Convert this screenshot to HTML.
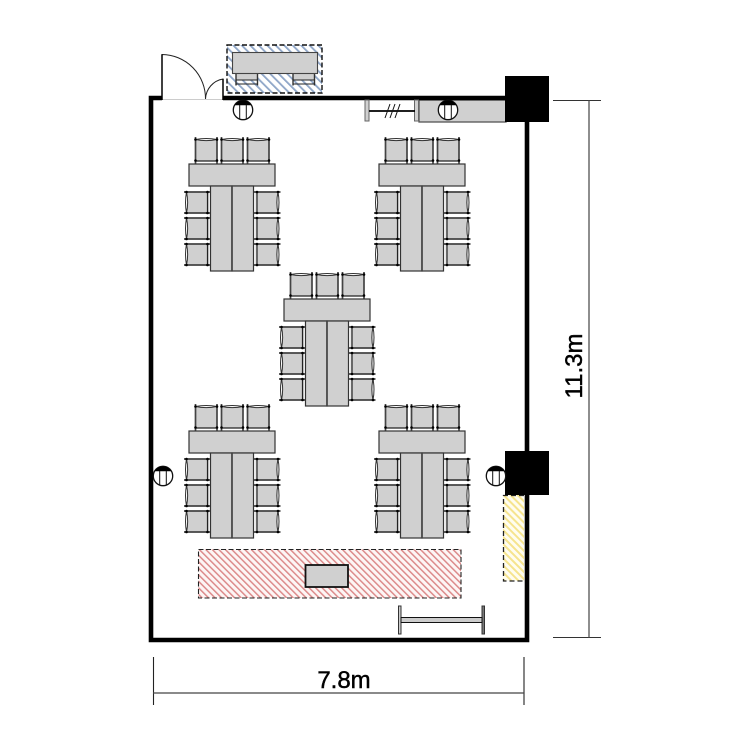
<!DOCTYPE html>
<html><head><meta charset="utf-8">
<style>html,body{margin:0;padding:0;background:#fff}svg{display:block}text{font-family:"Liberation Sans",sans-serif;fill:#000;stroke:#000;stroke-width:.45px}</style>
</head><body>
<svg width="750" height="750" viewBox="0 0 750 750" xmlns="http://www.w3.org/2000/svg">
<defs>
<pattern id="hb" width="6" height="6" patternUnits="userSpaceOnUse" patternTransform="rotate(-45)"><rect width="6" height="6" fill="#fff"/><rect x="0" width="1.800" height="6" fill="#8fa6c8"/></pattern>
<pattern id="hr" width="4.600" height="4.600" patternUnits="userSpaceOnUse" patternTransform="rotate(-45)"><rect width="4.600" height="4.600" fill="#fdf6f5"/><rect x="0" width="1.500" height="4.600" fill="#dc8a8a"/></pattern>
<pattern id="hy" width="5" height="5" patternUnits="userSpaceOnUse" patternTransform="rotate(-45)"><rect width="5" height="5" fill="#fffdf0"/><rect x="0" width="2" height="5" fill="#f6e48e"/></pattern>
<g id="ct">
<rect x="0" y="3" width="21.500" height="21" fill="#d0d0d0"/>
<path d="M0 2.500Q10.750 0.500 21.500 2.500M0 2.500Q10.750 4.800 21.500 2.500" fill="none" stroke="#333" stroke-width="1"/>
<path d="M0 0V26.500M21.500 0V26.500" stroke="#444" stroke-width="1.700" fill="none"/>
<path d="M0 24H21.500" stroke="#222" stroke-width="1.200"/>
<circle cx="0" cy="2.500" r="1.300" fill="#000"/><circle cx="21.500" cy="2.500" r="1.300" fill="#000"/>
<circle cx="0" cy="23.500" r="1.300" fill="#000"/><circle cx="21.500" cy="23.500" r="1.300" fill="#000"/>
</g>
<g id="cl">
<rect x="3" y="0" width="22" height="21" fill="#d0d0d0"/>
<path d="M2.500 0Q0.500 10.500 2.500 21M2.500 0Q4.800 10.500 2.500 21" fill="none" stroke="#333" stroke-width="1"/>
<path d="M0 0H26.500M0 21H26.500" stroke="#444" stroke-width="1.700" fill="none"/>
<path d="M23.500 0V21" stroke="#222" stroke-width="1.200"/>
<circle cx="2.500" cy="0" r="1.300" fill="#000"/><circle cx="2.500" cy="21" r="1.300" fill="#000"/>
<circle cx="23.500" cy="0" r="1.300" fill="#000"/><circle cx="23.500" cy="21" r="1.300" fill="#000"/>
</g>
<g id="cr">
<rect x="1.500" y="0" width="22" height="21" fill="#d0d0d0"/>
<path d="M24 0Q26 10.500 24 21M24 0Q21.700 10.500 24 21" fill="none" stroke="#333" stroke-width="1"/>
<path d="M0 0H26.500M0 21H26.500" stroke="#444" stroke-width="1.700" fill="none"/>
<path d="M3 0V21" stroke="#222" stroke-width="1.200"/>
<circle cx="3" cy="0" r="1.300" fill="#000"/><circle cx="3" cy="21" r="1.300" fill="#000"/>
<circle cx="24" cy="0" r="1.300" fill="#000"/><circle cx="24" cy="21" r="1.300" fill="#000"/>
</g>
<g id="grp">
<use href="#ct" x="195.500" y="137"/><use href="#ct" x="221.500" y="137"/><use href="#ct" x="247.500" y="137"/>
<use href="#cl" x="184" y="192"/><use href="#cl" x="184" y="218"/><use href="#cl" x="184" y="244"/>
<use href="#cr" x="254" y="192"/><use href="#cr" x="254" y="218"/><use href="#cr" x="254" y="244"/>
<rect x="189" y="164" width="86" height="22" fill="#d0d0d0" stroke="#333" stroke-width="1.200"/>
<rect x="210.500" y="186" width="21.500" height="85" fill="#d0d0d0" stroke="#333" stroke-width="1.200"/>
<rect x="232" y="186" width="21.500" height="85" fill="#d0d0d0" stroke="#333" stroke-width="1.200"/>
<path d="M232 186V271" stroke="#444" stroke-width="1.600"/>
</g>
<g id="out">
<circle r="9.700" fill="#fff" stroke="#111" stroke-width="1.300"/>
<path d="M-8.400 -4.800A9.700 9.700 0 0 1 8.400 -4.800Z" fill="#000"/>
<path d="M-3.300 -5V9M3.300 -5V9" stroke="#111" stroke-width="1" fill="none"/>
</g>
</defs>

<!-- hatched zones -->
<rect x="227" y="45" width="95" height="48" fill="url(#hb)" stroke="#111" stroke-width="1.400" stroke-dasharray="5 2.500"/>
<rect x="198.500" y="549.500" width="262.500" height="48.500" fill="url(#hr)" stroke="#222" stroke-width="1.100" stroke-dasharray="5 2.500"/>
<path d="M524 495H503V581H524" fill="url(#hy)" stroke="none"/>
<path d="M524 495.500H503.500V581H524" fill="none" stroke="#222" stroke-width="1.300" stroke-dasharray="5 3"/>

<!-- reception table -->
<rect x="236" y="73" width="21.500" height="7" fill="#d0d0d0"/>
<rect x="293" y="73" width="21.500" height="7" fill="#d0d0d0"/>
<path d="M236 73V85.500M257.500 73V85.500M293 73V85.500M314.500 73V85.500" stroke="#333" stroke-width="1.400"/>
<path d="M236 80H257.500M293 80H314.500M236 84H257.500M293 84H314.500" stroke="#222" stroke-width="1"/>
<rect x="232.500" y="52.500" width="85" height="21" fill="#d0d0d0" stroke="#444" stroke-width="1.100"/>

<!-- counter -->
<rect x="419" y="100" width="87" height="22" fill="#d0d0d0" stroke="#555" stroke-width="1.300"/>

<!-- walls -->
<path d="M162 98H151V640H527V100M223 98H506" fill="none" stroke="#000" stroke-width="4.600"/>
<path d="M162 99.500H223" stroke="#ccc" stroke-width="1"/>
<rect x="505" y="76" width="44" height="46" fill="#000"/>
<rect x="505" y="451" width="44" height="44" fill="#000"/>

<!-- door -->
<path d="M162 100V54.500A44 44 0 0 1 205.500 99" fill="none" stroke="#222" stroke-width="1"/>
<path d="M162 100V54.500" stroke="#000" stroke-width="1.500"/>
<path d="M223 100V79A21 21 0 0 0 205.500 99" fill="none" stroke="#222" stroke-width="1"/>
<path d="M223 100V79" stroke="#000" stroke-width="1.500"/>

<!-- shutter -->
<rect x="365" y="100" width="4" height="21" fill="#d0d0d0" stroke="#666" stroke-width="1"/>
<rect x="414.500" y="100" width="4" height="21" fill="#d0d0d0" stroke="#666" stroke-width="1"/>
<path d="M369 111H415" stroke="#000" stroke-width="1.800"/>
<path d="M385 118L390 104M390 118L395 104M395 118L400 104" stroke="#111" stroke-width="1"/>

<!-- outlets -->
<use href="#out" x="243" y="110"/>
<use href="#out" x="448" y="110"/>
<use href="#out" x="163" y="476"/>
<use href="#out" x="496" y="476"/>

<!-- table groups -->
<use href="#grp"/>
<use href="#grp" x="190"/>
<use href="#grp" x="95" y="135"/>
<use href="#grp" y="267"/>
<use href="#grp" x="190" y="267"/>

<!-- stage items -->
<rect x="305.500" y="565" width="42.500" height="22" fill="#d0d0d0" stroke="#111" stroke-width="1.800"/>
<rect x="398.500" y="606" width="2.500" height="28" fill="#ccc" stroke="#333" stroke-width="1"/>
<rect x="482" y="606" width="2.500" height="28" fill="#777" stroke="#333" stroke-width="1"/>
<rect x="401" y="617.500" width="81" height="5" fill="#ccc" stroke="#111" stroke-width="1"/>

<!-- dimensions -->
<path d="M153.500 657V705M524 657V705" stroke="#222" stroke-width="1.100"/>
<path d="M153 693H524" stroke="#444" stroke-width="1.200"/>
<path d="M553 100.500H601M553 637.500H601" stroke="#333" stroke-width="1.100"/>
<path d="M589 100V638" stroke="#444" stroke-width="1.200"/>
<text x="344" y="688" font-size="24" text-anchor="middle">7.8m</text>
<text transform="translate(582 366) rotate(-90)" font-size="24" text-anchor="middle">11.3m</text>
</svg>
</body></html>
